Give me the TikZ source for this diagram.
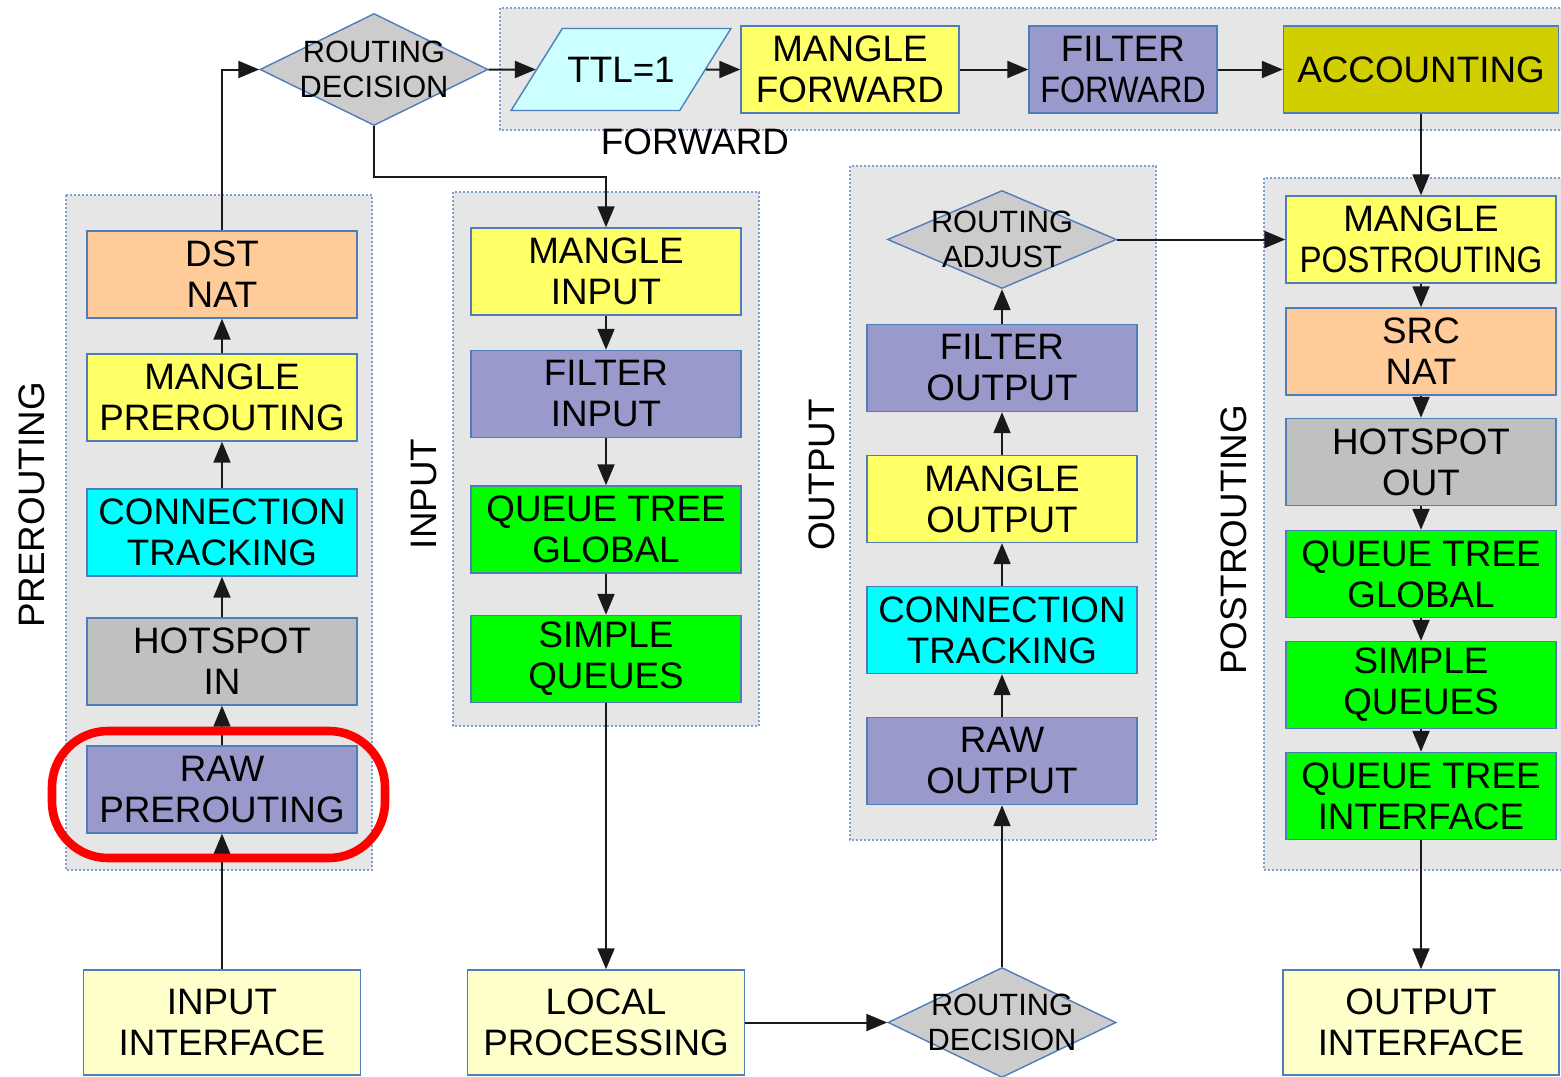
\documentclass[tikz,border=0pt]{standalone}
\usepackage{fontspec}
\setmainfont{Liberation Sans}
\usetikzlibrary{shapes.geometric,arrows.meta}
\definecolor{cyel}{HTML}{FFFF66}
\definecolor{cpeach}{HTML}{FFCC99}
\definecolor{ccyan}{HTML}{00FFFF}
\definecolor{cgray}{HTML}{C0C0C0}
\definecolor{clav}{HTML}{9999CC}
\definecolor{cgreen}{HTML}{00FF00}
\definecolor{colive}{HTML}{D2CF00}
\definecolor{cpale}{HTML}{FFFFCC}
\definecolor{cttl}{HTML}{CCFFFF}
\definecolor{cdia}{HTML}{CCCCCC}
\definecolor{cborder}{HTML}{4F7DB9}
\definecolor{cgrp}{HTML}{E6E6E6}
\definecolor{cgrpb}{HTML}{7F9FCF}
\begin{document}
\begin{tikzpicture}[x=0.5pt,y=-0.5pt,
  box/.style={draw=cborder, line width=0.7pt, minimum width=135pt, minimum height=43.5pt,
    inner sep=0pt, align=center, font=\fontsize{18.4pt}{20.5pt}\selectfont},
  dia/.style={diamond, draw=cborder, fill=cdia, line width=0.7pt, minimum width=114pt,
    minimum height=56pt, inner sep=0pt},
  dtext/.style={font=\fontsize{15.4pt}{17.5pt}\selectfont, align=center, inner sep=0pt},
  grp/.style={fill=cgrp, draw=cgrpb, line width=1.2pt, dash pattern=on 1pt off 1pt},
  lbl/.style={font=\fontsize{18.4pt}{20.5pt}\selectfont, rotate=90, inner sep=0pt},
  lblh/.style={font=\fontsize{18.4pt}{20.5pt}\selectfont, inner sep=0pt},
  arr/.style={line width=1pt, draw=black!90, -{Triangle[length=10.5pt,width=8.5pt]}},
]
\useasboundingbox (0,0) rectangle (1561,1076);

% groups
\draw[grp] (66,195) rectangle (372,870);
\draw[grp] (453,192) rectangle (759,726);
\draw[grp] (850,166) rectangle (1156,840);
\draw[grp] (1264,178) rectangle (1590,870);
\draw[grp] (500,8) rectangle (1590,130);

\node[lbl] (lpre) at (32,505) {PREROUTING};
\node[lbl] (lin) at (424,494) {INPUT};
\node[lbl] (lout) at (822,475) {OUTPUT};
\node[lbl] (lpost) at (1234,540) {POSTROUTING};
\node[lblh] (lfwd) at (695,142) {FORWARD};

% prerouting
\node[box, fill=cpeach] (dst) at (222,274.5) {DST\\NAT};
\node[box, fill=cyel] (mpre) at (222,397.5) {MANGLE\\PREROUTING};
\node[box, fill=ccyan] (ctpre) at (222,532.5) {CONNECTION\\TRACKING};
\node[box, fill=cgray] (hsin) at (222,661.5) {HOTSPOT\\IN};
\node[box, fill=clav] (rawpre) at (222,789.5) {RAW\\PREROUTING};
\node[box, fill=cpale, minimum width=138.5pt, minimum height=52.5pt] (inif) at (222,1022.5) {INPUT\\INTERFACE};

% input
\node[box, fill=cyel] (min) at (606,271.5) {MANGLE\\INPUT};
\node[box, fill=clav] (fin) at (606,394) {FILTER\\INPUT};
\node[box, fill=cgreen] (qtgin) at (606,529.5) {QUEUE TREE\\GLOBAL};
\node[box, fill=cgreen] (sqin) at (606,659) {SIMPLE\\QUEUES};
\node[box, fill=cpale, minimum width=138.5pt, minimum height=52.5pt] (local) at (606,1022.5) {LOCAL\\PROCESSING};

% output
\node[dia, minimum width=114.5pt, minimum height=49pt,
  label={[dtext]center:{ROUTING\\ADJUST}}] (radj) at (1002,239.5) {};
\node[box, fill=clav] (fout) at (1002,368) {FILTER\\OUTPUT};
\node[box, fill=cyel] (mout) at (1002,499) {MANGLE\\OUTPUT};
\node[box, fill=ccyan] (ctout) at (1002,630) {CONNECTION\\TRACKING};
\node[box, fill=clav] (rawout) at (1002,761) {RAW\\OUTPUT};
\node[dia, minimum width=114pt, minimum height=55pt,
  label={[dtext]center:{ROUTING\\DECISION}}] (rd2) at (1002,1022.5) {};

% postrouting
\node[box, fill=cyel] (mpost) at (1421,239.5) {MANGLE\\\scalebox{0.9}[1]{POSTROUTING}};
\node[box, fill=cpeach] (srcnat) at (1421,351.5) {SRC\\NAT};
\node[box, fill=cgray] (hsout) at (1421,462) {HOTSPOT\\OUT};
\node[box, fill=cgreen] (qtgpost) at (1421,574) {QUEUE TREE\\GLOBAL};
\node[box, fill=cgreen] (sqpost) at (1421,685) {SIMPLE\\QUEUES};
\node[box, fill=cgreen] (qti) at (1421,796) {QUEUE TREE\\INTERFACE};
\node[box, fill=cpale, minimum width=138pt, minimum height=52.5pt] (outif) at (1421,1022.5) {OUTPUT\\INTERFACE};

% forward row
\node[dia, label={[dtext]center:{ROUTING\\DECISION}}] (rd1) at (374,69.5) {};
\node[trapezium, trapezium left angle=58, trapezium right angle=122,
  draw=cborder, fill=cttl, line width=0.7pt, inner xsep=2.5pt, inner ysep=14pt,
  text height=13pt, text depth=0pt,
  font=\fontsize{18.4pt}{20.5pt}\selectfont] (ttl) at (621,69.5) {TTL=1};
\node[box, fill=cyel, minimum width=109pt] (mfwd) at (850,69.5) {MANGLE\\FORWARD};
\node[box, fill=clav, minimum width=94pt] (ffwd) at (1123,69.5) {FILTER\\\scalebox{0.88}[1]{FORWARD}};
\node[box, fill=colive, minimum width=137.5pt] (acc) at (1421,69.5) {ACCOUNTING};

% connectors
\draw[arr] (inif) -- (rawpre);
\draw[arr] (rawpre) -- (hsin);
\draw[arr] (hsin) -- (ctpre);
\draw[arr] (ctpre) -- (mpre);
\draw[arr] (mpre) -- (dst);
\draw[arr] (dst.north) |- (rd1.west);
\draw[arr] (rd1) -- (ttl);
\draw[arr] (ttl) -- (mfwd);
\draw[arr] (mfwd) -- (ffwd);
\draw[arr] (ffwd) -- (acc);
\coordinate (c1) at (606,177);
\draw[arr] (rd1.south) |- (c1) -- (min.north);
\draw[arr] (min) -- (fin);
\draw[arr] (fin) -- (qtgin);
\draw[arr] (qtgin) -- (sqin);
\draw[arr] (sqin) -- (local);
\draw[arr] (local) -- (rd2);
\draw[arr] (rd2) -- (rawout);
\draw[arr] (rawout) -- (ctout);
\draw[arr] (ctout) -- (mout);
\draw[arr] (mout) -- (fout);
\draw[arr] (fout) -- (radj);
\draw[arr] (radj) -- (mpost);
\draw[arr] (acc) -- (mpost);
\draw[arr] (mpost) -- (srcnat);
\draw[arr] (srcnat) -- (hsout);
\draw[arr] (hsout) -- (qtgpost);
\draw[arr] (qtgpost) -- (sqpost);
\draw[arr] (sqpost) -- (qti);
\draw[arr] (qti) -- (outif);

% highlight
\draw[red, line width=4.3pt, rounded corners=28pt] (52,731) rectangle (385,858);
\end{tikzpicture}
\end{document}
